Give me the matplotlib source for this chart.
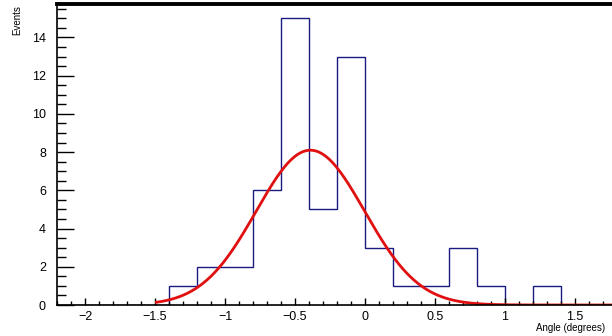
import numpy as np
import matplotlib
matplotlib.use("Agg")
import matplotlib.pyplot as plt
from matplotlib.ticker import MultipleLocator, FuncFormatter

plt.rcParams["font.family"] = ["Liberation Sans", "DejaVu Sans"]

# Histogram: 0.2-wide bins from -2.2 to 2.2
bin_edges = [-2.2, -2.0, -1.8, -1.6, -1.4, -1.2, -1.0, -0.8, -0.6, -0.4, -0.2,
             0.0, 0.2, 0.4, 0.6, 0.8, 1.0, 1.2, 1.4, 1.6, 1.8, 2.0, 2.2]
counts = [0, 0, 0, 0, 1, 2, 2, 6, 15, 5, 13,
          3, 1, 1, 3, 1, 0, 1, 0, 0, 0, 0]

# Gaussian fit parameters
fit_amplitude = 8.1
fit_mean = -0.39
fit_sigma = 0.387
fit_range = (-1.49, 2.2)

hist_color = "#1a1a80"
fit_color = "#e01010"

fig = plt.figure(figsize=(6.12, 3.36), dpi=100)
# the visible picture is cropped on the right, at about x = 1.76
ax = fig.add_axes([57 / 612, 31 / 336, 555 / 612, 301 / 336])

# Histogram outline (ROOT style step)
ax.stairs(counts, bin_edges, color=hist_color, linewidth=1.0, baseline=0)

# Fit function
xf = np.linspace(fit_range[0], fit_range[1], 400)
yf = fit_amplitude * np.exp(-0.5 * ((xf - fit_mean) / fit_sigma) ** 2)
ax.plot(xf, yf, color=fit_color, linewidth=2.0)

ax.set_xlim(-2.2, 1.764)
ax.set_ylim(0, 15.75)

ax.xaxis.set_major_locator(MultipleLocator(0.5))
ax.xaxis.set_minor_locator(MultipleLocator(0.1))
ax.yaxis.set_major_locator(MultipleLocator(2))
ax.yaxis.set_minor_locator(MultipleLocator(0.5))
root_fmt = FuncFormatter(lambda v, pos: f"{v:g}".replace("-", "\u2212"))
ax.xaxis.set_major_formatter(root_fmt)
ax.yaxis.set_major_formatter(root_fmt)

ax.tick_params(axis="x", which="major", direction="in", length=5, width=1,
               pad=4, labelsize=9)
ax.tick_params(axis="x", which="minor", direction="in", length=3, width=1)
ax.tick_params(axis="y", which="major", direction="in", length=12, width=1,
               pad=8, labelsize=9)
ax.tick_params(axis="y", which="minor", direction="in", length=6.5, width=1)

for side in ("left", "bottom"):
    ax.spines[side].set_linewidth(1.2)
ax.spines["top"].set_linewidth(2.8)
ax.spines["right"].set_visible(False)

fig.text(17 / 612, 1 - 5 / 336, "Events", rotation=90, fontsize=7,
         ha="center", va="top")
fig.text(536 / 612, 1 - 328 / 336, "Angle (degrees)", fontsize=7,
         ha="left", va="center")

fig.savefig("out.png", dpi=100)
